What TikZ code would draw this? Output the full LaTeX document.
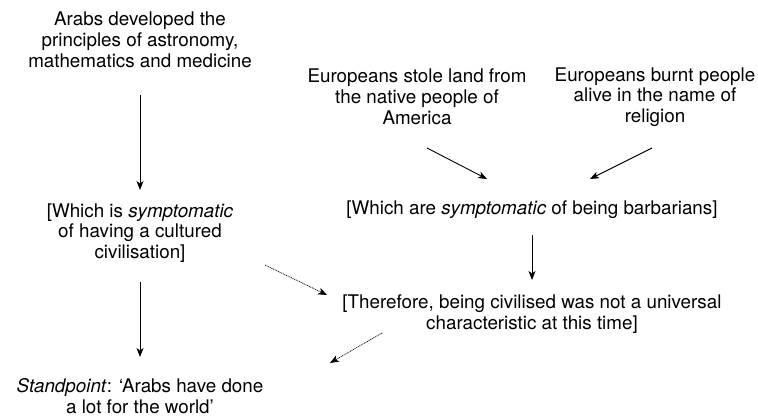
\documentclass[tikz,border=0pt]{standalone}
\usepackage{fontspec}
\setmainfont{TeX Gyre Heros}
\usetikzlibrary{arrows.meta,calc}
\begin{document}
\begin{tikzpicture}[x=1pt,y=-1pt,
 txt/.style={align=center,inner sep=0pt,font=\fontsize{18.8}{20.8}\selectfont},
 arr/.style={-{Stealth[length=9pt,width=7pt,inset=2.5pt]},line width=0.9pt},
 darr/.style={arr,line width=0.7pt,dash pattern=on 1pt off 0.8pt}]
\useasboundingbox[fill=white] (0,0) rectangle (758,417);
\node[txt] (arabs) at (140,40) {Arabs developed the\\principles of astronomy,\\mathematics and medicine};
\node[txt] (which1) at (140,233) {[Which is \textit{symptomatic}\\of having a cultured\\civilisation]};
\node[txt] (stand) at (140,396) {\textit{Standpoint}: `Arabs have done\\a lot for the world'};
\node[txt] (eu1) at (417,97) {Europeans stole land from\\the native people of\\America};
\node[txt] (eu2) at (655,97) {Europeans burnt people\\alive in the name of\\religion};
\node[txt] (which2) at (532,210) {[Which are \textit{symptomatic} of being barbarians]};
\node[txt] (there) at (532,314) {[Therefore, being civilised was not a universal\\characteristic at this time]};
\draw[arr] ($(arabs.center)+(0,55)$) -- ($(which1.center)+(0,-43)$);
\draw[arr] ($(which1.center)+(0,49)$) -- ($(stand.center)+(0,-39)$);
\draw[arr] ($(eu1.center)+(10,51)$) -- ($(which2.center)+(-45,-31)$);
\draw[arr] ($(eu2.center)+(-3,51)$) -- ($(which2.center)+(58,-31)$);
\draw[arr] ($(which2.center)+(0,25)$) -- ($(there.center)+(0,-34)$);
\draw[darr] ($(which1.center)+(125,32)$) -- ($(there.center)+(-205,-19)$);
\draw[darr] ($(there.center)+(-150,19)$) -- ($(stand.center)+(190,-33)$);
\end{tikzpicture}
\end{document}
